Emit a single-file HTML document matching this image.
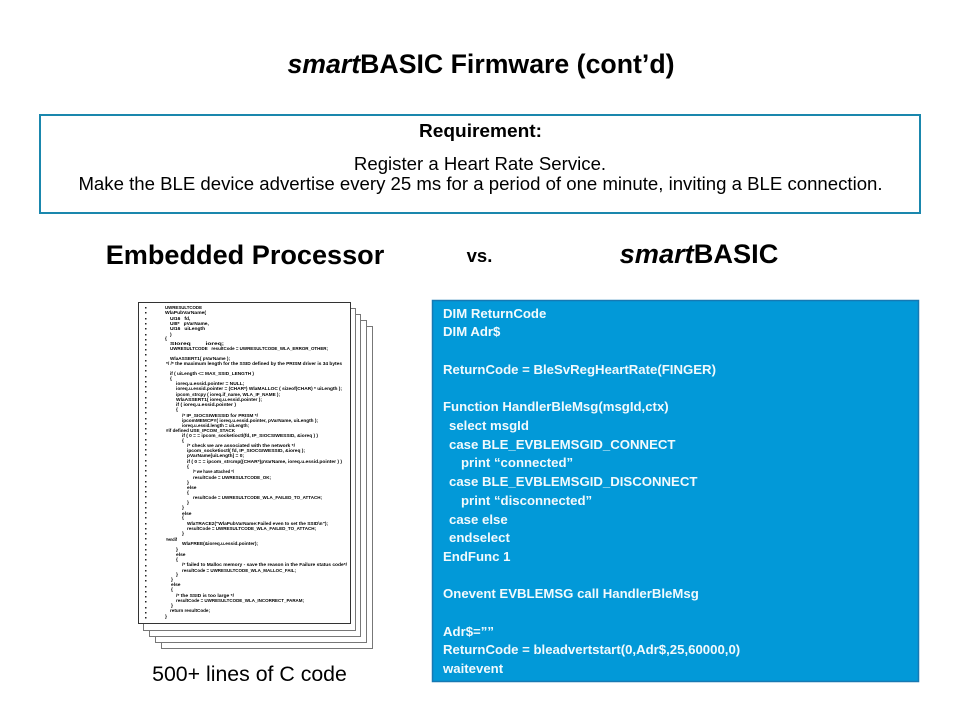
<!DOCTYPE html>
<html><head><meta charset="utf-8"><style>
html,body{margin:0;padding:0;background:#fff}
svg{display:block}
text{font-family:"Liberation Sans",sans-serif}
.b{font-weight:bold}
.c text{font-size:4.9px;font-weight:bold;fill:#000}
.w text{font-size:13.2px;font-weight:bold;fill:#f2fafd}
</style></head><body>
<svg width="960" height="720" viewBox="0 0 960 720" xmlns="http://www.w3.org/2000/svg">
<defs><filter id="soft" x="0" y="0" width="1" height="1"><feGaussianBlur stdDeviation="0.28"/></filter></defs>
<rect width="960" height="720" fill="#fff"/>
<text x="481" y="73" text-anchor="middle" font-size="26.700" class="b" fill="#000"><tspan font-style="italic">smart</tspan>BASIC Firmware (cont’d)</text>
<rect x="40" y="115" width="880" height="98" fill="#fff" stroke="#1a87ad" stroke-width="2"/>
<text x="480.500" y="137" text-anchor="middle" font-size="18.800" class="b" fill="#000" textLength="123" lengthAdjust="spacingAndGlyphs">Requirement:</text>
<text x="480" y="170" text-anchor="middle" font-size="18.600" fill="#000">Register a Heart Rate Service.</text>
<text x="480.500" y="190" text-anchor="middle" font-size="18.600" fill="#000">Make the BLE device advertise every 25 ms for a period of one minute, inviting a BLE connection.</text>
<text x="245" y="264" text-anchor="middle" font-size="27.100" class="b" fill="#000">Embedded Processor</text>
<text x="479.500" y="262" text-anchor="middle" font-size="18.500" class="b" fill="#000">vs.</text>
<text x="699" y="263" text-anchor="middle" font-size="27.200" class="b" fill="#000"><tspan font-style="italic">smart</tspan>BASIC</text>
<g fill="#fff" stroke="#777" stroke-width="1">
<rect x="161.500" y="326.500" width="211" height="322"/>
<rect x="155.500" y="320.500" width="211" height="322"/>
<rect x="149.500" y="314.500" width="211" height="322"/>
<rect x="143.500" y="308.500" width="212" height="322"/>
<rect x="138.500" y="302.500" width="212" height="321" stroke="#333"/>
</g>
<g class="c" filter="url(#soft)">
<text x="165" y="309" textLength="37" lengthAdjust="spacingAndGlyphs">UWRESULTCODE</text>
<text x="165" y="314" textLength="41" lengthAdjust="spacingAndGlyphs">WlaPubVarName(</text>
<text x="170" y="320">UI16&#160;&#160;&#160;fd,</text>
<text x="170" y="325">UI8*&#160;&#160;&#160;pVarName,</text>
<text x="170" y="330">UI16&#160;&#160;&#160;uiLength</text>
<text x="170" y="336">)</text>
<text x="165" y="340">{</text>
<text x="170" y="345" textLength="54" lengthAdjust="spacingAndGlyphs">SIoreq&#160;&#160;&#160;&#160;&#160;&#160;&#160;&#160;ioreq;</text>
<text x="170" y="350" textLength="158" lengthAdjust="spacingAndGlyphs">UWRESULTCODE&#160;&#160;&#160;resultCode = UWRESULTCODE_WLA_ERROR_OTHER;</text>
<text x="170" y="360" textLength="60" lengthAdjust="spacingAndGlyphs">WlaASSERT1( pVarName );</text>
<text x="166" y="365" textLength="176" lengthAdjust="spacingAndGlyphs">*/&#160;/* the maximum length for the SSID defined by the PRISM driver is 34 bytes</text>
<text x="170" y="375" textLength="84" lengthAdjust="spacingAndGlyphs">if ( uiLength &lt;= MAX_SSID_LENGTH )</text>
<text x="170" y="380">{</text>
<text x="176" y="385">ioreq.u.essid.pointer = NULL;</text>
<text x="176" y="390" textLength="166" lengthAdjust="spacingAndGlyphs">ioreq.u.essid.pointer = (CHAR*) WlaMALLOC ( sizeof(CHAR) * uiLength );</text>
<text x="176" y="396" textLength="104" lengthAdjust="spacingAndGlyphs">ipcom_strcpy ( ioreq.if_name, WLA_IF_NAME );</text>
<text x="176" y="401" textLength="86" lengthAdjust="spacingAndGlyphs">WlaASSERT1( ioreq.u.essid.pointer );</text>
<text x="176" y="406" textLength="60" lengthAdjust="spacingAndGlyphs">if ( ioreq.u.essid.pointer )</text>
<text x="176" y="411">{</text>
<text x="182" y="417" textLength="76" lengthAdjust="spacingAndGlyphs">/* IP_SIOCSIWESSID for PRISM */</text>
<text x="182" y="422" textLength="136" lengthAdjust="spacingAndGlyphs">ipcomMEMCPY( ioreq.u.essid.pointer, pVarName, uiLength );</text>
<text x="182" y="427" textLength="67" lengthAdjust="spacingAndGlyphs">ioreq.u.essid.length = uiLength;</text>
<text x="166" y="432" textLength="69" lengthAdjust="spacingAndGlyphs">#if defined USE_IPCOM_STACK</text>
<text x="182" y="437" textLength="136" lengthAdjust="spacingAndGlyphs">if ( 0 = = ipcom_socketioctl(fd, IP_SIOCSIWESSID, &amp;ioreq ) )</text>
<text x="182" y="442">{</text>
<text x="187" y="447" textLength="108" lengthAdjust="spacingAndGlyphs">/* check we are associated with the network */</text>
<text x="187" y="452" textLength="118" lengthAdjust="spacingAndGlyphs">ipcom_socketioctl( fd, IP_SIOCGIWESSID, &amp;ioreq );</text>
<text x="187" y="457" textLength="57" lengthAdjust="spacingAndGlyphs">pVarName[uiLength] = 0;</text>
<text x="187" y="463" textLength="155" lengthAdjust="spacingAndGlyphs">if ( 0 = = ipcom_strcmp((CHAR*)pVarName, ioreq.u.essid.pointer ) )</text>
<text x="187" y="468">{</text>
<text x="193" y="473" textLength="41" lengthAdjust="spacingAndGlyphs">/* we have attached */</text>
<text x="193" y="479" textLength="78" lengthAdjust="spacingAndGlyphs">resultCode = UWRESULTCODE_OK;</text>
<text x="187" y="484">}</text>
<text x="187" y="489">else</text>
<text x="187" y="494">{</text>
<text x="193" y="499" textLength="129" lengthAdjust="spacingAndGlyphs">resultCode = UWRESULTCODE_WLA_FAILED_TO_ATTACH;</text>
<text x="187" y="504">}</text>
<text x="182" y="509">}</text>
<text x="182" y="515">else</text>
<text x="182" y="519">{</text>
<text x="187" y="525" textLength="141" lengthAdjust="spacingAndGlyphs">WlaTRACE2("WlaPubVarName:Failed even to set the SSID\n");</text>
<text x="187" y="530" textLength="129" lengthAdjust="spacingAndGlyphs">resultCode = UWRESULTCODE_WLA_FAILED_TO_ATTACH;</text>
<text x="182" y="535">}</text>
<text x="166" y="541" textLength="11" lengthAdjust="spacingAndGlyphs">#endif</text>
<text x="182" y="545" textLength="76" lengthAdjust="spacingAndGlyphs">WlaFREE(&amp;ioreq.u.essid.pointer);</text>
<text x="176" y="551">}</text>
<text x="176" y="556">else</text>
<text x="176" y="561">{</text>
<text x="182" y="566" textLength="165" lengthAdjust="spacingAndGlyphs">/* failed to Malloc memory - save the reason in the Failure status code*/</text>
<text x="182" y="572" textLength="114" lengthAdjust="spacingAndGlyphs">resultCode = UWRESULTCODE_WLA_MALLOC_FAIL;</text>
<text x="176" y="576">}</text>
<text x="171" y="581">}</text>
<text x="171" y="586">else</text>
<text x="171" y="591">{</text>
<text x="176" y="597" textLength="58" lengthAdjust="spacingAndGlyphs">/* the SSID is too large */</text>
<text x="176" y="602" textLength="128" lengthAdjust="spacingAndGlyphs">resultCode = UWRESULTCODE_WLA_INCORRECT_PARAM;</text>
<text x="171" y="607">}</text>
<text x="170" y="612" textLength="40" lengthAdjust="spacingAndGlyphs">return resultCode;</text>
<text x="165" y="618">}</text>
</g>
<g fill="#222">
<rect x="145" y="307" width="1.500" height="1.500"/><rect x="145" y="312" width="1.500" height="1.500"/><rect x="145" y="318" width="1.500" height="1.500"/><rect x="145" y="323" width="1.500" height="1.500"/><rect x="145" y="328" width="1.500" height="1.500"/><rect x="145" y="334" width="1.500" height="1.500"/><rect x="145" y="339" width="1.500" height="1.500"/><rect x="145" y="344" width="1.500" height="1.500"/><rect x="145" y="349" width="1.500" height="1.500"/><rect x="145" y="354" width="1.500" height="1.500"/><rect x="145" y="360" width="1.500" height="1.500"/><rect x="145" y="365" width="1.500" height="1.500"/><rect x="145" y="370" width="1.500" height="1.500"/><rect x="145" y="376" width="1.500" height="1.500"/><rect x="145" y="381" width="1.500" height="1.500"/><rect x="145" y="386" width="1.500" height="1.500"/><rect x="145" y="391" width="1.500" height="1.500"/><rect x="145" y="397" width="1.500" height="1.500"/><rect x="145" y="402" width="1.500" height="1.500"/><rect x="145" y="407" width="1.500" height="1.500"/><rect x="145" y="412" width="1.500" height="1.500"/><rect x="145" y="418" width="1.500" height="1.500"/><rect x="145" y="423" width="1.500" height="1.500"/><rect x="145" y="428" width="1.500" height="1.500"/><rect x="145" y="433" width="1.500" height="1.500"/><rect x="145" y="439" width="1.500" height="1.500"/><rect x="145" y="444" width="1.500" height="1.500"/><rect x="145" y="449" width="1.500" height="1.500"/><rect x="145" y="454" width="1.500" height="1.500"/><rect x="145" y="460" width="1.500" height="1.500"/><rect x="145" y="465" width="1.500" height="1.500"/><rect x="145" y="470" width="1.500" height="1.500"/><rect x="145" y="475" width="1.500" height="1.500"/><rect x="145" y="481" width="1.500" height="1.500"/><rect x="145" y="486" width="1.500" height="1.500"/><rect x="145" y="491" width="1.500" height="1.500"/><rect x="145" y="496" width="1.500" height="1.500"/><rect x="145" y="502" width="1.500" height="1.500"/><rect x="145" y="507" width="1.500" height="1.500"/><rect x="145" y="512" width="1.500" height="1.500"/><rect x="145" y="517" width="1.500" height="1.500"/><rect x="145" y="523" width="1.500" height="1.500"/><rect x="145" y="528" width="1.500" height="1.500"/><rect x="145" y="533" width="1.500" height="1.500"/><rect x="145" y="538" width="1.500" height="1.500"/><rect x="145" y="544" width="1.500" height="1.500"/><rect x="145" y="549" width="1.500" height="1.500"/><rect x="145" y="554" width="1.500" height="1.500"/><rect x="145" y="559" width="1.500" height="1.500"/><rect x="145" y="565" width="1.500" height="1.500"/><rect x="145" y="570" width="1.500" height="1.500"/><rect x="145" y="575" width="1.500" height="1.500"/><rect x="145" y="580" width="1.500" height="1.500"/><rect x="145" y="586" width="1.500" height="1.500"/><rect x="145" y="591" width="1.500" height="1.500"/><rect x="145" y="596" width="1.500" height="1.500"/><rect x="145" y="601" width="1.500" height="1.500"/><rect x="145" y="607" width="1.500" height="1.500"/><rect x="145" y="612" width="1.500" height="1.500"/><rect x="145" y="617" width="1.500" height="1.500"/>
</g>
<text x="249.500" y="681" text-anchor="middle" font-size="21.300" fill="#000">500+ lines of C code</text>
<rect x="432.500" y="300.500" width="486" height="381" fill="#0299d8" stroke="#1679b3" stroke-width="1.500"/>
<g class="w">
<text x="443" y="318">DIM ReturnCode</text>
<text x="443" y="336">DIM Adr$</text>
<text x="443" y="374">ReturnCode = BleSvRegHeartRate(FINGER)</text>
<text x="443" y="411">Function HandlerBleMsg(msgId,ctx)</text>
<text x="449" y="430">select msgId</text>
<text x="449" y="449">case BLE_EVBLEMSGID_CONNECT</text>
<text x="461" y="467">print “connected”</text>
<text x="449" y="486">case BLE_EVBLEMSGID_DISCONNECT</text>
<text x="461" y="505">print “disconnected”</text>
<text x="449" y="524">case else</text>
<text x="449" y="542">endselect</text>
<text x="443" y="561">EndFunc 1</text>
<text x="443" y="598">Onevent EVBLEMSG call HandlerBleMsg</text>
<text x="443" y="636">Adr$=””</text>
<text x="443" y="654">ReturnCode = bleadvertstart(0,Adr$,25,60000,0)</text>
<text x="443" y="673">waitevent</text>
</g>
</svg>
</body></html>
